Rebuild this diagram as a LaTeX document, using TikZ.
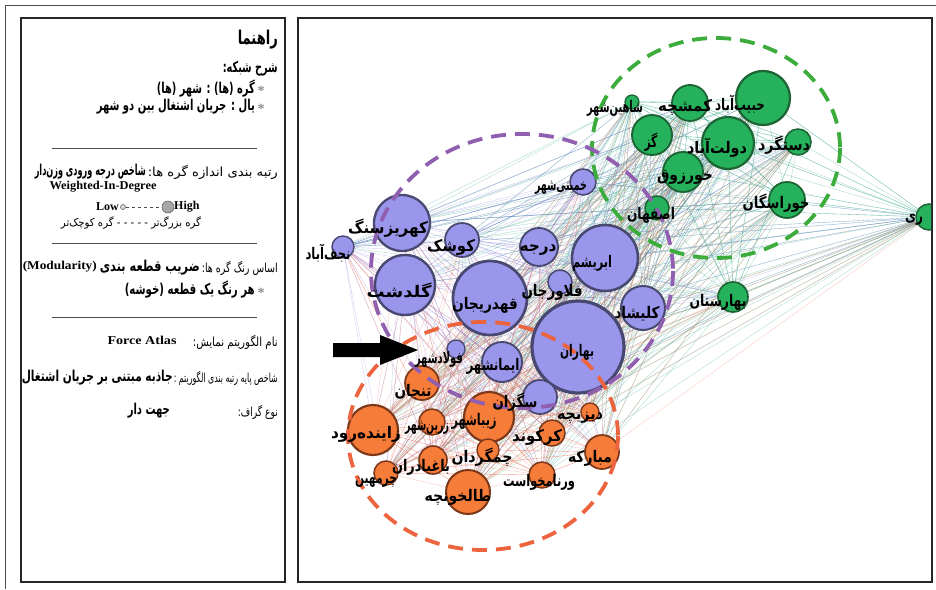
\documentclass[tikz,border=0pt]{standalone}
\usepackage{fontspec}
\usepackage{graphicx}
\setmainfont{Liberation Serif}
\newfontfamily\fa[Script=Arabic]{DejaVu Sans}
\TeXXeTstate=1
\usetikzlibrary{shapes.geometric}
\pgfdeclarelayer{bg}
\pgfdeclarelayer{edges}
\pgfsetlayers{bg,edges,main}
\newcommand{\fitw}[2]{\resizebox{#1}{\height}{#2}}
\definecolor{gfill}{RGB}{38,178,92}
\definecolor{gline}{RGB}{28,100,52}
\definecolor{pfill}{RGB}{154,150,236}
\definecolor{pline}{RGB}{72,72,112}
\definecolor{ofill}{RGB}{246,124,58}
\definecolor{oline}{RGB}{125,55,25}
\definecolor{gdash}{RGB}{60,172,60}
\definecolor{pdash}{RGB}{145,95,175}
\definecolor{odash}{RGB}{236,100,62}
\definecolor{gedge}{RGB}{60,170,140}
\definecolor{pedge}{RGB}{120,110,220}
\definecolor{oedge}{RGB}{240,115,85}
\tikzset{
  gcity/.style={circle, inner sep=0pt, fill=gfill, draw=gline},
  pcity/.style={circle, inner sep=0pt, fill=pfill, draw=pline},
  ocity/.style={circle, inner sep=0pt, fill=ofill, draw=oline},
  clabel/.style={font=\fa\bfseries\fontsize{16}{16}\selectfont, inner sep=0pt, text=black},
  gedgeS/.style={draw=gedge, line width=0.35pt, opacity=0.45},
  pedgeS/.style={draw=pedge, line width=0.35pt, opacity=0.35},
  oedgeS/.style={draw=oedge, line width=0.35pt, opacity=0.4},
  clusterS/.style={line width=3.8pt, dash pattern=on 15pt off 9pt},
  panel/.style={draw=black!85, line width=1.3pt},
  sepline/.style={draw=black!70, line width=0.6pt},
  faR/.style={font=\fa\fontsize{12.5}{13}\selectfont, anchor=east, inner sep=0pt},
  faB/.style={font=\fa\bfseries\fontsize{15}{16}\selectfont, anchor=east, inner sep=0pt},
  enB/.style={font=\bfseries\fontsize{12}{13}\selectfont, inner sep=0pt},
  bulletS/.style={font=\bfseries\fontsize{14}{14}\selectfont, text=black!45, inner sep=0pt},
}
\begin{document}
\begin{tikzpicture}[x=1pt,y=-1pt]
\useasboundingbox (0,0) rectangle (936,589);
\begin{pgfonlayer}{bg}
\fill[white] (0,0) rectangle (936,589);
\end{pgfonlayer}
% outer page lines
\draw[black!70, line width=0.8pt] (5,589) -- (5,5) -- (936,5);
% panels
\draw[panel] (21,18) rectangle (285,582);
\draw[panel] (298,18) rectangle (932,582);

% ---------- city nodes ----------
\foreach \n/\x/\y/\r in {g1/632/102/7, g2/690/103/18, g3/763/98/27, g4/652/135/20, g5/728/143/26,
  g6/798/142/13, g7/683/172/20, g8/787/200/18, g9/657/208/12, g11/733/297/15}
  \node[gcity, line width={0.9pt+\r*0.05pt}, minimum size=\r*2pt] (\n) at (\x,\y) {};
\begin{scope}
  \clip (298,18) rectangle (931,582);
  \node[gcity, line width=1.5pt, minimum size=26pt] (g10) at (929,217) {};
\end{scope}
\foreach \n/\x/\y/\r in {p1/583/182/13, p2/402/223/28, p3/343/247/11, p4/462/240/17, p5/539/247/19,
  p6/605/258/33, p7/405/285/30, p8/560/282/12, p9/490/298/37, p10/643/308/22, p11/578/347/46,
  p12/456/349/9, p13/502/362/20, p14/540/397/17}
  \node[pcity, line width={0.9pt+\r*0.05pt}, minimum size=\r*2pt] (\n) at (\x,\y) {};
\foreach \n/\x/\y/\r in {o1/422/383/17, o2/489/417/25, o3/432/422/13, o4/590/412/9, o5/373/430/25,
  o6/552/433/13, o7/602/452/17, o8/488/450/11, o9/433/460/14, o10/542/475/13, o11/386/473/12,
  o12/468/492/22}
  \node[ocity, line width={0.9pt+\r*0.05pt}, minimum size=\r*2pt] (\n) at (\x,\y) {};

% ---------- edges ----------
\def\glist{g1,g2,g3,g4,g5,g6,g7,g8,g9,g10,g11}
\def\plist{p1,p2,p3,p4,p5,p6,p7,p8,p9,p10,p11,p12,p13,p14}
\def\olist{o1,o2,o3,o4,o5,o6,o7,o8,o9,o10,o11,o12}
\def\alllist{g1,g2,g3,g4,g5,g6,g7,g8,g9,g10,g11,p1,p2,p3,p4,p5,p6,p7,p8,p9,p10,p11,p12,p13,p14,o1,o2,o3,o4,o5,o6,o7,o8,o9,o10,o11,o12}
\begin{pgfonlayer}{edges}
\pgfmathsetseed{11}
\foreach \a in \glist {\foreach \b in \alllist {\ifx\a\b\else
  \pgfmathtruncatemacro\keep{rnd<0.7?1:0}\ifnum\keep=1 \draw[gedgeS] (\a) -- (\b);\fi\fi}}
\foreach \a in \plist {\foreach \b in \alllist {\ifx\a\b\else
  \pgfmathtruncatemacro\keep{rnd<0.5?1:0}\ifnum\keep=1 \draw[pedgeS] (\a) -- (\b);\fi\fi}}
\foreach \a in \olist {\foreach \b in \alllist {\ifx\a\b\else
  \pgfmathtruncatemacro\keep{rnd<0.55?1:0}\ifnum\keep=1 \draw[oedgeS] (\a) -- (\b);\fi\fi}}
\end{pgfonlayer}

% ---------- cluster outlines ----------
\draw[clusterS, draw=gdash] (716,148) ellipse [x radius=124, y radius=110];
\draw[clusterS, draw=pdash] (522,271) ellipse [x radius=151, y radius=137];
\draw[clusterS, draw=odash] (483,436) ellipse [x radius=135, y radius=114];

% ---------- city labels ----------
\foreach \n/\x/\y/\w/\t in {g1/615/108/56/شاهین‌شهر, g2/685/107/54/کمشچه, g3/740/104/50/حبیب‌آباد,
  g4/651/142/13/گز, g5/717/148/60/دولت‌آباد, g6/784/145/52/دستگرد, g7/685/177/56/خورزوق,
  g8/776/203/67/خوراسگان, g9/651/215/48/اصفهان, g10/914/220/18/ری, g11/718/302/57/بهارستان,
  p1/561/188/52/خمینی‌شهر, p2/388/228/80/کهریزسنگ, p3/328/253/45/نجف‌آباد, p4/451/247/48/کوشک,
  p5/538/250/37/درجه, p6/592/263/40/ابریشم, p7/399/290/65/گلدشت, p8/552/292/61/فلاورجان,
  p9/485/305/66/قهدریجان, p10/637/314/45/کلیشاد, p11/577/352/34/بهاران, p12/439/359/48/فولادشهر,
  p13/493/366/53/ایمانشهر, p14/515/402/45/سگزان,
  o1/413/392/37/تنجان, o2/474/421/45/زیباشهر, o3/427/428/44/زرین‌شهر, o4/580/418/46/دیزیچه,
  o5/366/434/70/زاینده‌رود, o6/537/437/50/کرکوند, o7/590/458/44/مبارکه, o8/482/457/61/چمگردان,
  o9/421/467/58/باغبادران, o10/539/482/72/ورنامخواست, o11/376/482/42/چرمهین, o12/458/497/67/طالخونچه}
  \node[clabel] (l\n) at (\x,\y) {\fitw{\w pt}{\beginR\t\endR}};

% ---------- pointer arrow ----------
\coordinate (arA) at (333,343);
\coordinate (arTip) at (418,350);
\fill[black] (arA) -- (380,343) -- (380,335) -- (arTip) -- (380,365) -- (380,357) -- (333,357) -- cycle;

% ---------- legend panel ----------
\node[font=\fa\bfseries\fontsize{19}{20}\selectfont, anchor=east, inner sep=0pt] (t1) at (278,40) {\fitw{40pt}{\beginR راهنما\endR}};
\node[faB] (t2) at (278,69) {\fitw{55pt}{\beginR شرح شبکه:\endR}};
\node[bulletS] (b3) at (261,91) {*};
\node[faB] (t3) at (255,89) {\fitw{98pt}{\beginR گره (ها) : شهر (ها)\endR}};
\node[bulletS] (b4) at (261,109) {*};
\node[faB] (t4) at (255,107) {\fitw{158pt}{\beginR یال : جریان اشتغال بین دو شهر\endR}};
\draw[sepline] (52,148) -- (257,148);
\node[faR] (t5a) at (278,172) {\fitw{130pt}{\beginR رتبه بندی اندازه گره ها:\endR}};
\node[faB] (t5b) at (146,172) {\fitw{111pt}{\beginR شاخص درجه ورودی وزن‌دار\endR}};
\node[enB] (t6) at (103,187) {\fitw{107pt}{Weighted-In-Degree}};
\node[enB, anchor=east] (low) at (119,207) {Low};
\node[circle, draw=black!60, fill=black!15, line width=0.6pt, minimum size=5pt, inner sep=0pt] (lowc) at (123,207) {};
\node[circle, draw=black!60, fill=black!35, line width=0.6pt, minimum size=12pt, inner sep=0pt] (highc) at (168,207) {};
\draw[black!70, line width=0.8pt, dash pattern=on 3pt off 3pt] (lowc) -- (highc);
\node[enB, anchor=west] (high) at (174,207) {High};
\node[font=\fa\fontsize{11}{11}\selectfont, inner sep=0pt] (t8) at (131,223) {\fitw{140pt}{\beginR گره بزرگ‌تر - - - - - گره کوچک‌تر\endR}};
\draw[sepline] (52,243) -- (257,243);
\node[faR] (t10a) at (278,268) {\fitw{76pt}{\beginR اساس رنگ گره ها:\endR}};
\node[faB] (t10b) at (200,268) {\fitw{100pt}{\beginR ضریب قطعه بندی\endR}};
\node[enB, anchor=east] (t10c) at (97,267) {\fitw{74pt}{(Modularity)}};
\node[bulletS] (b11) at (261,293) {*};
\node[faB] (t11) at (255,290) {\fitw{130pt}{\beginR هر رنگ یک قطعه (خوشه)\endR}};
\draw[sepline] (52,317) -- (257,317);
\node[faR] (t13a) at (278,342) {\fitw{85pt}{\beginR نام الگوریتم نمایش:\endR}};
\node[enB] (t13b) at (142,340) {\fitw{69pt}{Force Atlas}};
\node[faR] (t14a) at (278,378) {\fitw{104pt}{\beginR شاخص پایه رتبه بندی الگوریتم :\endR}};
\node[faB] (t14b) at (173,378) {\fitw{151pt}{\beginR جاذبه مبتنی بر جریان اشتغال\endR}};
\node[faR] (t15a) at (278,412) {\fitw{40pt}{\beginR نوع گراف:\endR}};
\node[faB] (t15b) at (170,411) {\fitw{42pt}{\beginR جهت دار\endR}};
\end{tikzpicture}
\end{document}
